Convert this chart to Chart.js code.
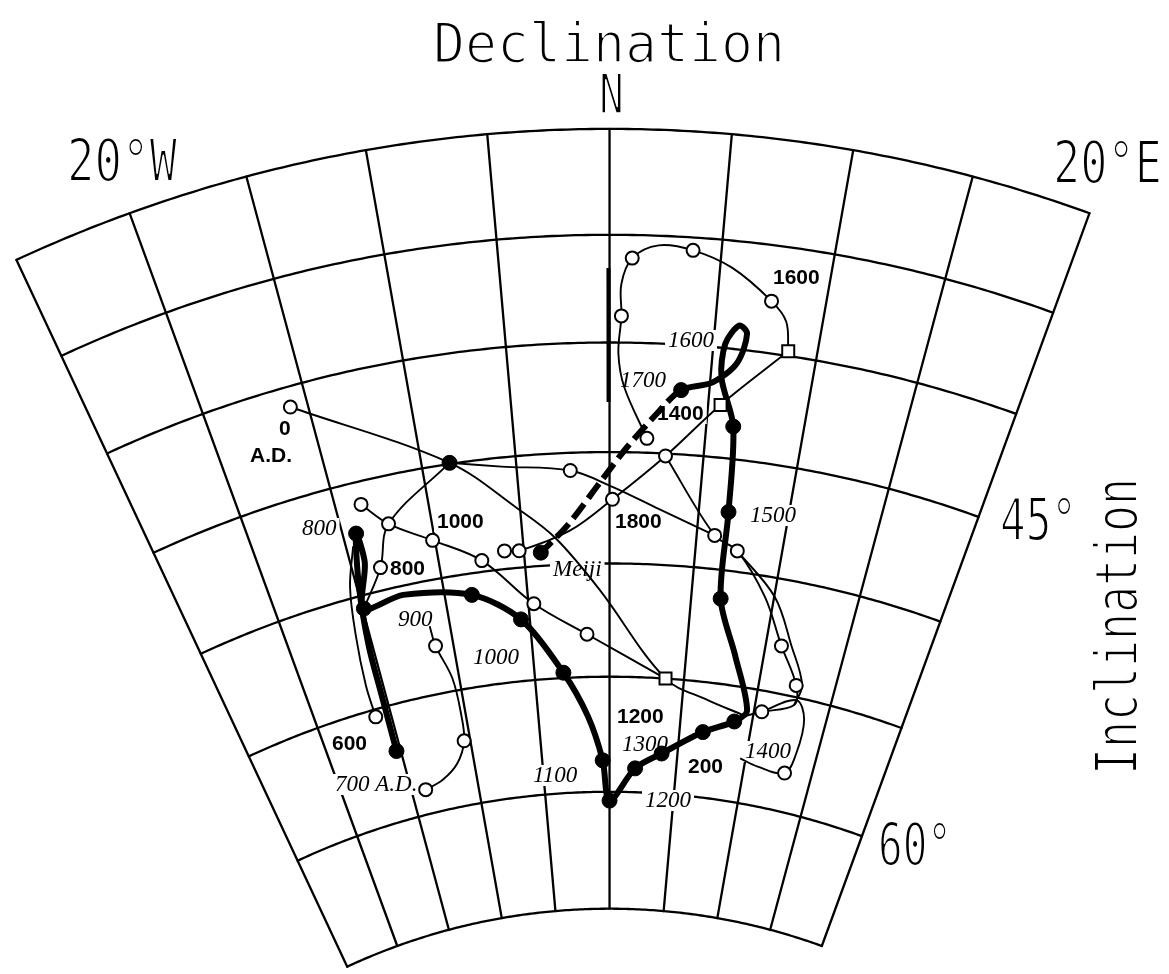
<!DOCTYPE html>
<html>
<head>
<meta charset="utf-8">
<script src="https://cdn.jsdelivr.net/npm/chart.js@4.4.1/dist/chart.umd.min.js"></script>
<style>
  html, body { margin: 0; padding: 0; background: #fff; }
  #wrap { width: 1169px; height: 974px; position: relative; }
</style>
</head>
<body>
<div id="wrap"><canvas id="c"></canvas></div>
<script>
// Fan grid ticks: declination (degrees, east positive) and inclination (degrees)
const declTicks = [-25, -20, -15, -10, -5, 0, 5, 10, 15, 20];
const inclTicks = [30, 35, 40, 45, 50, 55, 60, 65];

// Heavy curve (declination, inclination)
const thickD = [-15.30, -15.27, -15.23, -14.87, -14.26, -14.19, -14.92, -12.44, -8.37, -5.55, -3.08, -1.52, -0.51, 0.00, 1.92, 3.84, 6.67, 8.77, 9.53, 8.18, 6.80, 6.66, 6.39, 5.54, 5.57, 6.14, 6.55, 6.23, 5.13, 3.59, 2.51, 0.88, -0.54, -2.41, -4.02];
const thickI = [57.00, 54.47, 52.23, 49.60, 47.25, 48.61, 50.58, 50.40, 50.95, 52.29, 54.77, 56.72, 58.64, 60.38, 58.97, 58.27, 57.18, 56.54, 55.99, 53.69, 51.27, 47.39, 43.53, 41.36, 39.79, 38.90, 39.23, 40.62, 41.62, 42.08, 43.12, 44.82, 46.39, 48.27, 49.41];
// index from which the heavy curve is drawn broken (1700 towards Meiji)
const thickDashFrom = 29;

// Solid dots on the heavy curve
const dotD = [-15.30, -14.26, -14.92, -8.37, -5.55, -3.08, -0.51, 0.00, 1.92, 3.84, 6.67, 8.77, 6.80, 6.66, 6.39, 3.59, -4.02, -8.52];
const dotI = [57.00, 47.25, 50.58, 50.95, 52.29, 54.77, 58.64, 60.38, 58.97, 58.27, 57.18, 56.54, 51.27, 47.39, 43.53, 42.08, 49.41, 44.95];

// Thin traces
const t1D = [-15.85, -8.52, -5.11, -3.12, -0.60, 3.76, 6.75, 9.24];
const t1I = [40.93, 44.95, 47.38, 48.80, 51.17, 55.00, 55.77, 56.19];
const t2D = [-13.61, -12.38, -10.13, -7.50, -4.67, -1.44, 3.76];
const t2I = [46.03, 47.16, 48.27, 49.50, 51.65, 53.12, 55.00];
const t3D = [8.61, 5.63, 2.98, 0.16, -2.25, -5.27, -6.12];
const t3I = [39.79, 42.61, 45.11, 47.13, 48.49, 49.25, 49.19];
const t4D = [8.61, 8.31, 7.50, 5.55, 3.73, 2.19, 1.02, 0.54, 0.56, 0.43, 0.74, 1.96];
const t4I = [39.79, 38.45, 37.60, 36.27, 35.60, 35.45, 36.08, 37.31, 38.77, 40.49, 42.05, 44.35];
const t5D = [2.98, 6.03, 7.43, 9.44, 11.00, 12.46, 12.61, 10.54, 9.26];
const t5I = [45.11, 48.50, 49.07, 50.91, 52.92, 54.49, 55.35, 55.92, 56.28];
const t6D = [10.54, 12.68, 13.50, 13.52, 13.02, 10.93, 9.61];
const t6I = [55.92, 55.12, 55.87, 57.39, 58.33, 58.29, 58.08];
const t7D = [-11.25, -11.13, -10.45, -10.31, -10.44, -11.24, -12.56, -13.95];
const t7I = [52.00, 52.90, 54.45, 56.08, 57.22, 58.13, 58.70, 58.94];
const t8D = [-8.52, -5.80, -2.12, 0.16, 2.75, 6.03];
const t8I = [44.95, 45.41, 45.80, 46.57, 47.51, 48.50];
const t9D = [-16.04, -16.09, -15.83, -15.38, -14.60];
const t9I = [55.32, 53.87, 51.63, 49.50, 47.77];
const t10D = [-14.92, -13.38, -12.38, -8.52];
const t10I = [50.58, 48.99, 47.16, 44.95];
const t11D = [7.43, 10.03, 11.62, 12.84, 12.61];
const t11I = [49.07, 50.84, 52.83, 54.43, 55.35];
const barD = [-0.05, -0.05];
const barI = [36.55, 42.72];

// Open circles and open squares
const circD = [-15.85, -13.61, -12.38, -13.38, -10.13, -7.50, -6.12, -5.27, -4.67, -1.44, -2.12, 0.16, 1.96, 2.98, 0.56, 1.02, 3.73, 7.50, 6.03, 7.43, 11.00, 12.46, 10.54, 13.02, -11.13, -10.44, -13.95, -16.04];
const circI = [40.93, 46.03, 47.16, 48.99, 48.27, 49.50, 49.19, 49.25, 51.65, 53.12, 45.80, 47.13, 44.35, 45.11, 38.77, 36.08, 35.60, 37.60, 48.50, 49.07, 52.92, 54.49, 55.92, 58.33, 52.90, 57.22, 58.94, 55.32];
const sqD = [8.61, 5.63, 3.76];
const sqI = [39.79, 42.61, 55.00];

// Conic fan projection: angle = declination, radius shrinks with inclination
const UNIT = 22.74;
function rho(I) { const t = (I - 30) / 35; return (1429 - 751 * t - 46 * t * t) / UNIT; }
function project(D, I) {
  const r = rho(I), a = D * Math.PI / 180;
  return { x: r * Math.sin(a), y: r * Math.cos(a) };
}
const pts = (Ds, Is) => Ds.map((d, i) => project(d, Is[i]));

const thin = (Ds, Is) => ({
  data: pts(Ds, Is), showLine: true, borderColor: '#000', borderWidth: 1.9,
  pointRadius: 0, tension: 0.35, fill: false, order: 6
});

// Text annotations (left x, baseline y)
const italicLabels = [
  ['1600', 668, 347], ['1700', 620, 387], ['1500', 750, 522], ['Meiji', 553, 576],
  ['800', 302, 535], ['900', 398, 626], ['1000', 473, 664], ['700 A.D.', 335, 791],
  ['1100', 533, 782], ['1300', 622, 751], ['1200', 645, 807], ['1400', 745, 758]
];
const plainLabels = [
  ['1600', 773, 284], ['1000', 437, 528], ['800', 390, 575], ['600', 332, 750],
  ['1200', 617, 723], ['200', 688, 773], ['1800', 615, 528], ['1400', 657, 420],
  ['0', 279, 435], ['A.D.', 250, 462]
];

// Draws text squeezed to a given width, thinned with a white edge stroke
function fitText(ctx, txt, x, y, width) {
  const w = ctx.measureText(txt).width;
  ctx.save();
  ctx.translate(x, y);
  ctx.scale(width / w, 1);
  ctx.textAlign = 'left';
  ctx.fillStyle = '#000';
  ctx.fillText(txt, 0, 0);
  ctx.strokeStyle = '#fff';
  ctx.lineWidth = 2;
  ctx.lineJoin = 'round';
  ctx.strokeText(txt, 0, 0);
  ctx.restore();
}

const fanGrid = {
  id: 'fanGrid',
  beforeDatasetsDraw(chart) {
    const { ctx, scales: { x, y } } = chart;
    const P = (D, I) => { const p = project(D, I); return [x.getPixelForValue(p.x), y.getPixelForValue(p.y)]; };
    ctx.save();
    ctx.strokeStyle = '#000';
    ctx.lineWidth = 2.3;
    ctx.lineCap = 'round';
    ctx.lineJoin = 'round';
    const d0 = declTicks[0], d1 = declTicks[declTicks.length - 1];
    inclTicks.forEach(I => {
      ctx.beginPath();
      for (let D = d0; D <= d1 + 1e-9; D += 0.25) {
        const [px, py] = P(D, I);
        if (D === d0) ctx.moveTo(px, py); else ctx.lineTo(px, py);
      }
      ctx.stroke();
    });
    declTicks.forEach(D => {
      const a = P(D, inclTicks[0]), b = P(D, inclTicks[inclTicks.length - 1]);
      ctx.beginPath(); ctx.moveTo(a[0], a[1]); ctx.lineTo(b[0], b[1]); ctx.stroke();
    });

    // year annotations, knocked out of the grid
    ctx.textBaseline = 'alphabetic';
    const knock = (list, font, h) => {
      ctx.font = font;
      list.forEach(([t, lx, ly]) => {
        const w = ctx.measureText(t).width;
        ctx.fillStyle = '#fff';
        ctx.fillRect(lx - 3, ly - h, w + 6, h + 4);
        ctx.fillStyle = '#000';
        ctx.fillText(t, lx, ly);
      });
    };
    knock(italicLabels, 'italic 23px "Liberation Serif"', 17);
    knock(plainLabels, 'bold 21px "Liberation Sans"', 17);

    // axis titles
    ctx.font = '55px "DejaVu Sans Mono"';
    fitText(ctx, 'Declination', 433, 62, 352);
    fitText(ctx, 'N', 599, 113, 25);
    ctx.font = '58px "DejaVu Sans Mono"';
    fitText(ctx, '20°W', 67, 181, 110);
    fitText(ctx, '20°E', 1053, 183, 109);
    fitText(ctx, '45°', 1000, 540, 77);
    fitText(ctx, '60°', 878, 865, 74);
    ctx.save();
    ctx.translate(1137, 775);
    ctx.rotate(-Math.PI / 2);
    fitText(ctx, 'Inclination', 0, 0, 297);
    ctx.restore();
    ctx.restore();
  }
};

new Chart(document.getElementById('c'), {
  type: 'scatter',
  data: {
    datasets: [
      { data: pts(circD, circI), pointStyle: 'circle', pointRadius: 6.5, pointBackgroundColor: '#fff', pointBorderColor: '#000', pointBorderWidth: 2, order: 1 },
      { data: pts(sqD, sqI), pointStyle: 'rect', pointRadius: 8.5, pointBackgroundColor: '#fff', pointBorderColor: '#000', pointBorderWidth: 2, order: 1 },
      { data: pts(dotD, dotI), pointStyle: 'circle', pointRadius: 7.5, pointBackgroundColor: '#000', pointBorderColor: '#000', pointBorderWidth: 1, order: 2 },
      { data: pts(thickD, thickI), showLine: true, borderColor: '#000', borderWidth: 6, pointRadius: 0, tension: 0.3, fill: false, order: 3,
        segment: { borderDash: c => (c.p0DataIndex >= thickDashFrom ? [18, 7] : undefined) } },
      { data: pts(barD, barI), showLine: true, borderColor: '#000', borderWidth: 4, pointRadius: 0, order: 4 },
      thin(t1D, t1I), thin(t2D, t2I), thin(t3D, t3I), thin(t4D, t4I), thin(t5D, t5I),
      thin(t6D, t6I), thin(t7D, t7I), thin(t8D, t8I), thin(t9D, t9I), thin(t10D, t10I), thin(t11D, t11I)
    ]
  },
  options: {
    responsive: true,
    maintainAspectRatio: false,
    devicePixelRatio: 1,
    animation: false,
    events: [],
    layout: { padding: 0 },
    plugins: { legend: { display: false }, tooltip: { enabled: false }, title: { display: false } },
    scales: {
      x: { type: 'linear', min: -610 / UNIT, max: 559 / UNIT, display: false },
      y: { type: 'linear', min: 576 / UNIT, max: 1550 / UNIT, display: false }
    }
  },
  plugins: [fanGrid]
});
</script>
</body>
</html>
